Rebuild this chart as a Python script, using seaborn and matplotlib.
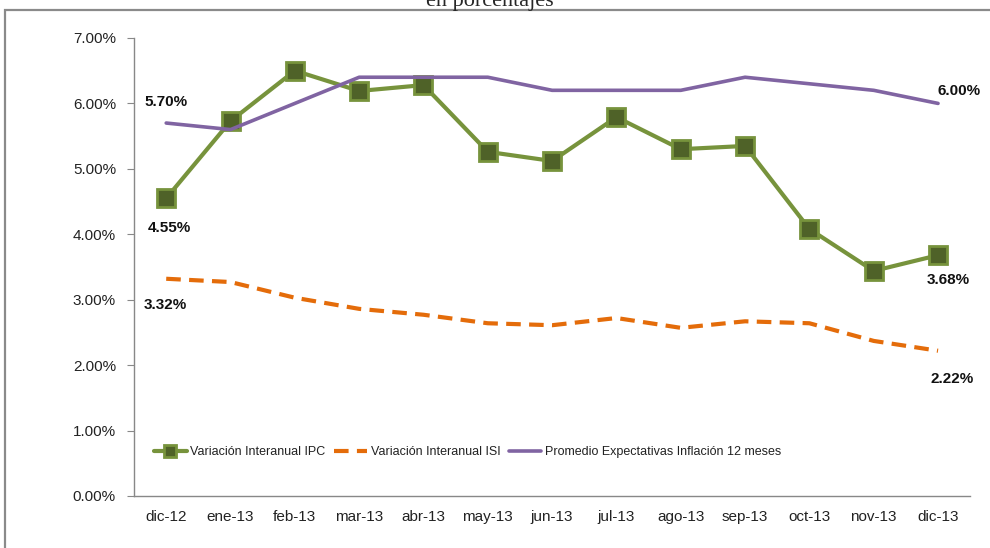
import pandas as pd
import numpy as np
import matplotlib
matplotlib.use("Agg")
import matplotlib.pyplot as plt
import seaborn as sns
from matplotlib.patches import Rectangle
from matplotlib.ticker import FuncFormatter, FixedLocator

# datos del grafico (en porcentajes)
meses = ["dic-12", "ene-13", "feb-13", "mar-13", "abr-13", "may-13", "jun-13",
         "jul-13", "ago-13", "sep-13", "oct-13", "nov-13", "dic-13"]
ipc = [4.55, 5.73, 6.50, 6.19, 6.28, 5.26, 5.12, 5.79, 5.30, 5.35, 4.08, 3.44, 3.68]
isi = [3.32, 3.27, 3.03, 2.86, 2.77, 2.64, 2.61, 2.72, 2.57, 2.67, 2.64, 2.37, 2.22]
expectativas = [5.70, 5.60, 6.00, 6.40, 6.40, 6.40, 6.20, 6.20, 6.20, 6.40, 6.30, 6.20, 6.00]

nombres = ["Variación Interanual IPC", "Variación Interanual ISI",
           "Promedio Expectativas Inflación 12 meses"]

df = pd.DataFrame({"mes": meses, "ipc": ipc, "isi": isi, "exp": expectativas})

sns.set_style("white")
plt.rcParams["font.family"] = ["Liberation Sans", "DejaVu Sans"]

fig = plt.figure(figsize=(9.9, 5.48), dpi=100)
ax = fig.add_axes([0.1354, 0.0949, 0.8446, 0.8358])

verde = "#77933C"
verde_osc = "#4F6228"
naranja = "#E46C0A"
morado = "#8064A2"

sns.lineplot(data=df, x="mes", y="ipc", ax=ax, color=verde, linewidth=3,
             marker="s", markersize=13, markerfacecolor=verde_osc,
             markeredgecolor=verde, markeredgewidth=2, label=nombres[0], sort=False)
sns.lineplot(data=df, x="mes", y="isi", ax=ax, color=naranja, linewidth=3,
             label=nombres[1], sort=False)
ax.lines[-1].set_dashes([3.5, 2])
sns.lineplot(data=df, x="mes", y="exp", ax=ax, color=morado, linewidth=2.6,
             label=nombres[2], sort=False)

ax.set_xlim(-0.5, len(meses) - 0.5)
ax.set_ylim(0, 7)
ax.set_yticks(np.arange(0, 7.01, 1))
ax.yaxis.set_major_formatter(FuncFormatter(lambda v, p: f"{v:.2f}%"))
ax.set_xlabel("")
ax.set_ylabel("")

ax.xaxis.set_minor_locator(FixedLocator(np.arange(-0.5, len(meses), 1)))
ax.tick_params(axis="x", which="major", length=0, pad=10, labelsize=11, labelcolor="#222222")
ax.tick_params(axis="x", which="minor", length=5, color="#888888", direction="out")
ax.tick_params(axis="y", length=5, color="#888888", direction="out", pad=8, labelsize=11,
               left=True, labelcolor="#222222")

for s in ["top", "right"]:
    ax.spines[s].set_visible(False)
for s in ["left", "bottom"]:
    ax.spines[s].set_color("#888888")
    ax.spines[s].set_linewidth(1)

# etiquetas de datos
bold = dict(fontsize=11, fontweight="bold", color="#111111")
ax.annotate(f"{expectativas[0]:.2f}%", (0, expectativas[0]), xytext=(0, 12), textcoords="offset points", ha="center", **bold)
ax.annotate(f"{ipc[0]:.2f}%", (0, ipc[0]), xytext=(2, -24), textcoords="offset points", ha="center", **bold)
ax.annotate(f"{isi[0]:.2f}%", (0, isi[0]), xytext=(-1, -22), textcoords="offset points", ha="center", **bold)
ax.annotate(f"{expectativas[-1]:.2f}%", (12, expectativas[-1]), xytext=(15, 6), textcoords="offset points", ha="center", **bold)
ax.annotate(f"{ipc[-1]:.2f}%", (12, ipc[-1]), xytext=(7, -21), textcoords="offset points", ha="center", **bold)
ax.annotate(f"{isi[-1]:.2f}%", (12, isi[-1]), xytext=(10, -23), textcoords="offset points", ha="center", **bold)

leg = ax.legend(loc="center left", bbox_to_anchor=(0.018, 0.096), ncol=3, frameon=False,
                handlelength=2.6, columnspacing=0.7, handletextpad=0.3, fontsize=9,
                markerscale=0.7, borderaxespad=0)
for t in leg.get_texts():
    t.set_color("#222222")

# marco y titulo cortado
fig.patches.append(Rectangle((5 / 990, -0.05), 1.1, 1 - 10 / 548 + 0.05, transform=fig.transFigure,
                             fill=False, edgecolor="#8a8a8a", linewidth=1.6, clip_on=False))
fig.text(0.495, 1 - 6 / 548, "en porcentajes", ha="center", va="baseline", fontsize=16,
         family=["Liberation Serif", "DejaVu Serif"])

fig.savefig("out.png", dpi=100)
